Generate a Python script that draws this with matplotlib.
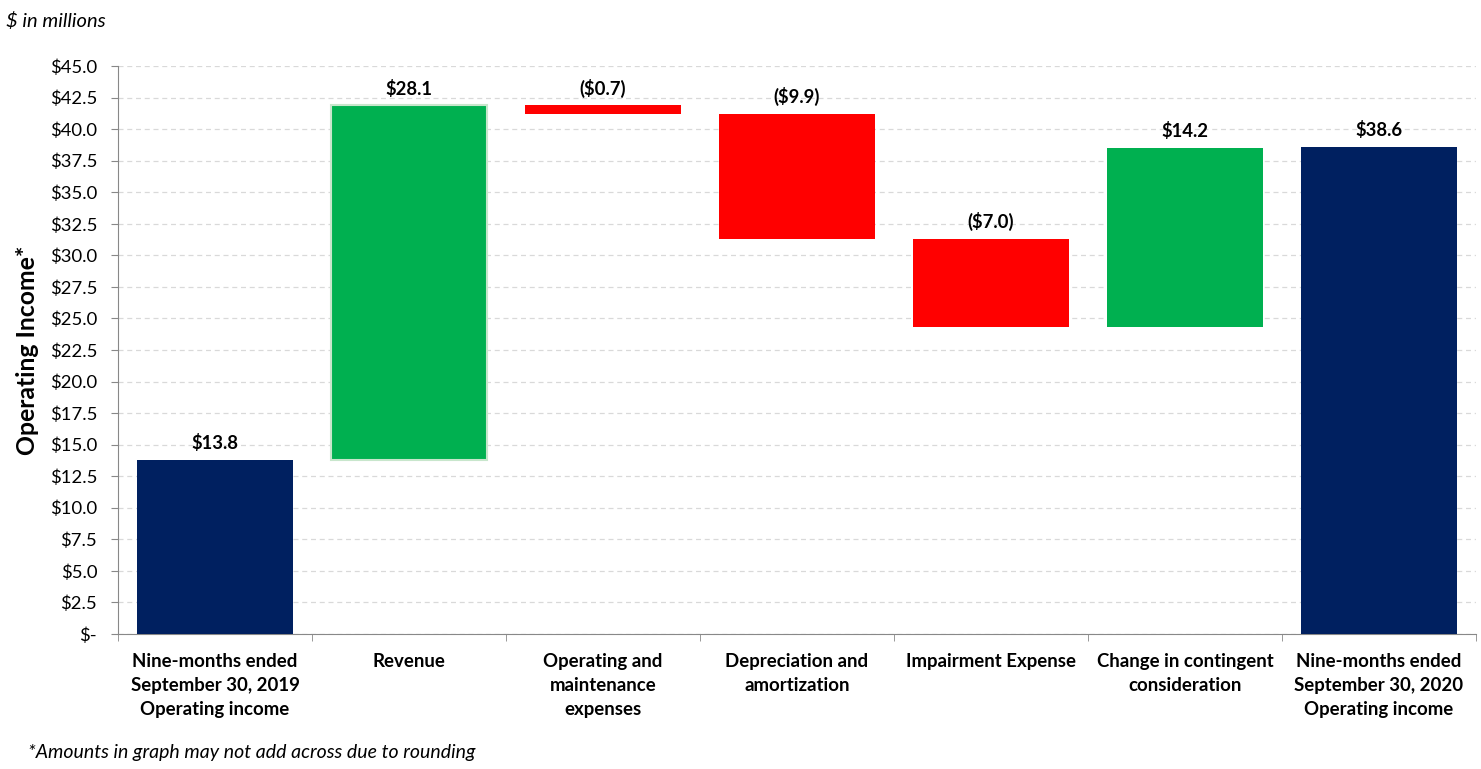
import numpy as np
import matplotlib.pyplot as plt
from matplotlib.ticker import FuncFormatter, MultipleLocator

plt.rcParams['font.family'] = ['Lato', 'DejaVu Sans']

categories = ["Nine-months ended\nSeptember 30, 2019\nOperating income",
              "Revenue",
              "Operating and\nmaintenance\nexpenses",
              "Depreciation and\namortization",
              "Impairment Expense",
              "Change in contingent\nconsideration",
              "Nine-months ended\nSeptember 30, 2020\nOperating income"]
changes = [13.8, 28.1, -0.7, -9.9, -7.0, 14.2, 38.6]
value_labels = ["$13.8", "$28.1", "($0.7)", "($9.9)", "($7.0)", "$14.2", "$38.6"]
kinds = ["total", "delta", "delta", "delta", "delta", "delta", "total"]

navy = "#002060"
green = "#00B050"
red = "#FF0000"

bottoms, heights, colors = [], [], []
running = 0.0
for v, k in zip(changes, kinds):
    if k == "total":
        bottoms.append(0)
        heights.append(v)
        colors.append(navy)
        running = v
    else:
        if v >= 0:
            bottoms.append(running)
            colors.append(green)
        else:
            bottoms.append(running + v)
            colors.append(red)
        heights.append(abs(v))
        running += v

fig = plt.figure(figsize=(14.81, 7.69), dpi=100)
ax = fig.add_axes([0.0797, 0.1756, 0.9169, 0.7386])

x = np.arange(len(categories))
bars = ax.bar(x, heights, bottom=bottoms, width=0.8, color=colors, zorder=3)
bars[1].set_edgecolor("#c8e6cc")
bars[1].set_linewidth(1.5)

for xi, b, h, lab in zip(x, bottoms, heights, value_labels):
    ax.text(xi, b + h + 0.6, lab, ha="center", va="bottom",
            fontsize=13.3, fontweight="bold", color="black")

ax.set_xlim(-0.5, len(categories) - 0.5)
ax.set_ylim(0, 45)
ax.yaxis.set_major_locator(MultipleLocator(2.5))
ax.yaxis.set_major_formatter(FuncFormatter(lambda v, p: "$-" if v == 0 else f"${v:.1f}"))
ax.grid(axis="y", color="#d9d9d9", linestyle=(0, (4, 3)), linewidth=0.9, zorder=0)

ax.set_xticks(x)
ax.set_xticklabels(categories, fontsize=13.4, fontweight="bold", linespacing=1.5)
ax.set_xticks(np.arange(len(categories) + 1) - 0.5, minor=True)
ax.tick_params(axis="x", which="major", length=0, pad=14)
ax.tick_params(axis="x", which="minor", length=5, color="#888888")
ax.tick_params(axis="y", labelsize=13.3, length=5, color="#888888", pad=10)

for s in ["top", "right"]:
    ax.spines[s].set_visible(False)
ax.spines["left"].set_color("#888888")
ax.spines["bottom"].set_color("#888888")

ax.set_ylabel("Operating Income*", fontsize=17.8, fontweight="bold", labelpad=8)

fig.text(0.004, 0.985, "$ in millions", fontsize=14.5, style="italic", va="top")
fig.text(0.019, 0.022, "*Amounts in graph may not add across due to rounding",
         fontsize=14, style="italic", va="center")

fig.savefig("out.png", dpi=100)
